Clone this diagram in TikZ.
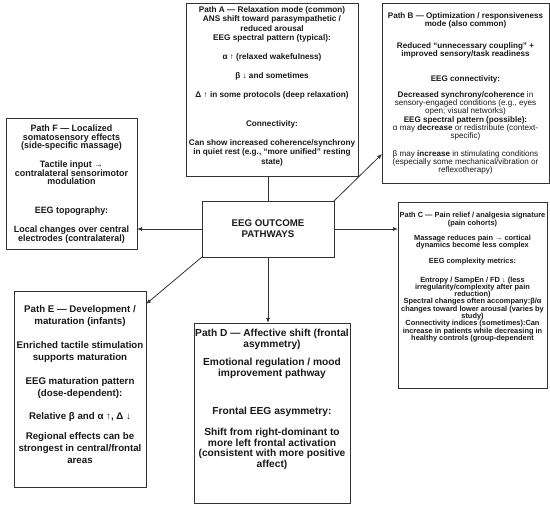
\documentclass[tikz,border=0pt]{standalone}
\usepackage{fontspec}
\setmainfont{Liberation Sans}
\newfontfamily\narrowfont[FakeStretch=0.97]{Liberation Sans}
\usetikzlibrary{arrows.meta}
\begin{document}
\begin{tikzpicture}[x=1pt,y=-1pt,
  box/.style={draw=black!80, line width=0.8pt, rectangle, inner sep=0pt, outer sep=0pt, anchor=north west},
  txt/.style={anchor=north, align=center, inner sep=0pt, text=black!90},
  arr/.style={draw=black!80, line width=0.8pt, -{Latex[length=5pt,width=4pt]}},
  ln/.style={draw=black!80, line width=0.8pt}]
\useasboundingbox (0,0) rectangle (550,510);

% boxes
\node[box, minimum width=172pt, minimum height=173pt] (A) at (186,3) {};
\node[box, minimum width=167pt, minimum height=180pt] (B) at (382,3) {};
\node[box, minimum width=131pt, minimum height=131pt] (F) at (6,118) {};
\node[box, minimum width=132pt, minimum height=56pt] (cen) at (202,201) {};
\node[box, minimum width=149pt, minimum height=186pt] (C) at (398,202) {};
\node[box, minimum width=132pt, minimum height=196pt] (E) at (14,291) {};
\node[box, minimum width=156pt, minimum height=180pt] (D) at (194,323) {};

% texts
\node[txt, font=\fontsize{8.2}{9.5}\selectfont\bfseries] (tA) at (272,6.2) {%
Path A — Relaxation mode (common)\\
ANS shift toward parasympathetic /\\
reduced arousal\\
EEG spectral pattern (typical):\\[9.5pt]
α ↑ (relaxed wakefulness)\\[9.5pt]
β ↓ and sometimes\\[9.5pt]
Δ ↑ in some protocols (deep relaxation)\\[19pt]
Connectivity:\\[9.5pt]
Can show increased coherence/synchrony\\
in quiet rest (e.g., “more unified” resting\\
state)};

\node[txt, font=\fontsize{8.1}{8}\selectfont\bfseries] (tB) at (465.5,12.6) {%
Path B — Optimization / responsiveness\\
mode (also common)\\[14pt]
Reduced “unnecessary coupling” +\\
improved sensory/task readiness\\[16.4pt]
EEG connectivity:\\[8.6pt]
Decreased synchrony/coherence {\mdseries in}\\
{\mdseries sensory-engaged conditions (e.g., eyes}\\
{\mdseries open; visual networks)}\\[1pt]
EEG spectral pattern (possible):\\
{\mdseries α may} decrease {\mdseries or redistribute (context-}\\
{\mdseries specific)}\\[10pt]
{\mdseries β may} increase {\mdseries in stimulating conditions}\\
{\mdseries (especially some mechanical/vibration or}\\
{\mdseries reflexotherapy)}};

\node[txt, font=\fontsize{7.4}{7.3}\selectfont\bfseries] (tC) at (472.5,212.2) {%
Path C — Pain relief / analgesia signature\\
(pain cohorts)\\[8.1pt]
Massage reduces pain → cortical\\
dynamics become less complex\\[8.4pt]
EEG complexity metrics:\\[11.3pt]
Entropy / SampEn / FD ↓ (less\\
irregularity/complexity after pain\\
reduction)\\
Spectral changes often accompany:β/α\\
changes toward lower arousal (varies by\\
study)\\
Connectivity indices (sometimes):Can\\
increase in patients while decreasing in\\
healthy controls (group-dependent};

\node[txt, font=\fontsize{10.2}{10.7}\selectfont\bfseries] (tD) at (272,329.4) {%
Path D — Affective shift (frontal\\
asymmetry)\\[7pt]
Emotional regulation / mood\\
improvement pathway\\[27.6pt]
Frontal EEG asymmetry:\\[10.3pt]
Shift from right-dominant to\\
more left frontal activation\\
(consistent with more positive\\
affect)};

\node[txt, font=\fontsize{9.7}{11.8}\selectfont\bfseries] (tE) at (80,305.6) {%
Path E — Development /\\
maturation (infants)\\[12.3pt]
Enriched tactile stimulation\\
supports maturation\\[12.4pt]
EEG maturation pattern\\
(dose-dependent):\\[10.7pt]
Relative β and α ↑, Δ ↓\\[8.7pt]
Regional effects can be\\
strongest in central/frontal\\
areas};

\node[txt, font=\narrowfont\fontsize{9.2}{8.6}\selectfont\bfseries] (tF) at (71.5,124.8) {%
Path F — Localized\\
somatosensory effects\\
(side-specific massage)\\[9.2pt]
Tactile input →\\
contralateral sensorimotor\\
modulation\\[20.2pt]
EEG topography:\\[8.8pt]
Local changes over central\\
electrodes (contralateral)};

\node[align=center, inner sep=0pt, text=black!90, font=\fontsize{9.7}{11.3}\selectfont\bfseries] (tcen) at (cen.center) {EEG OUTCOME\\PATHWAYS};

% connectors
\draw[ln] (cen.north) -- (cen.north |- A.south);
\draw[arr] (cen.north east) -- ([yshift=29pt]B.south west);
\draw[arr] (cen.east) -- (cen.east -| C.west);
\draw[arr] (cen.south) -- (cen.south |- D.north);
\draw[arr] (cen.south west) -- ([yshift=-13pt]E.north east);
\draw[arr] (cen.west) -- (cen.west -| F.east);
\end{tikzpicture}
\end{document}
